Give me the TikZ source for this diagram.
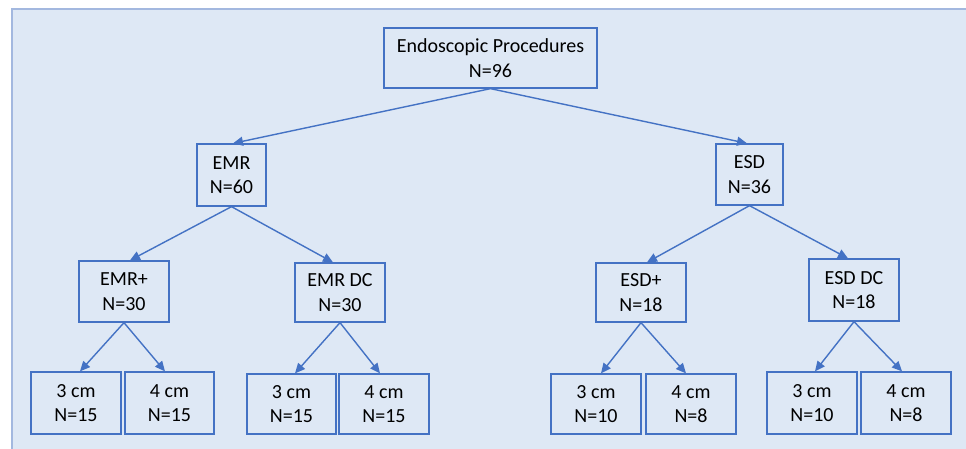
\documentclass[tikz,border=0pt]{standalone}
\usepackage{fontspec}
\setmainfont{Carlito}
\usetikzlibrary{arrows.meta,calc}
\definecolor{panelbg}{HTML}{DEE8F5}
\definecolor{panelline}{HTML}{A3B8DF}
\definecolor{boxline}{HTML}{4472C4}
\tikzset{
  box/.style={draw=boxline, line width=1.3pt, fill=panelbg, rectangle, align=center,
    inner sep=0pt, font=\fontsize{20}{24.5}\selectfont, text=black},
  conn/.style={draw=boxline, line width=1.4pt, -{Triangle[length=10pt,width=9pt]}}
}
\begin{document}
\begin{tikzpicture}[x=1pt,y=-1pt]
\useasboundingbox (0,0) rectangle (966,449);
\fill[white] (0,0) rectangle (966,449);
\fill[panelbg] (12,9) rectangle (975,460);
\draw[panelline, line width=1.3pt] (12,460) -- (12,9) -- (975,9);

\node[box, minimum width=213pt, minimum height=60pt] (top) at (490.5,58) {Endoscopic Procedures\\N=96};
\node[box, minimum width=69pt, minimum height=62pt] (emr) at (231.5,175) {EMR\\N=60};
\node[box, minimum width=67pt, minimum height=61pt] (esd) at (749.5,174.5) {ESD\\N=36};
\node[box, minimum width=90pt, minimum height=61pt] (emrp) at (124,291.5) {EMR+\\N=30};
\node[box, minimum width=90pt, minimum height=59pt] (emrdc) at (340,292.5) {EMR DC\\N=30};
\node[box, minimum width=90pt, minimum height=59pt] (esdp) at (641,292.5) {ESD+\\N=18};
\node[box, minimum width=90pt, minimum height=62pt] (esddc) at (854,290) {ESD DC\\N=18};

\node[box, minimum width=90pt, minimum height=62pt] (a1) at (76,403) {3 cm\\N=15};
\node[box, minimum width=89pt, minimum height=62pt] (a2) at (169.5,403) {4 cm\\N=15};
\node[box, minimum width=89pt, minimum height=60pt] (b1) at (291.5,404) {3 cm\\N=15};
\node[box, minimum width=90pt, minimum height=60pt] (b2) at (384,404) {4 cm\\N=15};
\node[box, minimum width=90pt, minimum height=60pt] (c1) at (596,404) {3 cm\\N=10};
\node[box, minimum width=90pt, minimum height=60pt] (c2) at (691,404) {4 cm\\N=8};
\node[box, minimum width=90pt, minimum height=62pt] (d1) at (812,403) {3 cm\\N=10};
\node[box, minimum width=90pt, minimum height=62pt] (d2) at (906,403) {4 cm\\N=8};

\draw[conn] (top.south) -- ($(emr.north)+(1.5,0)$);
\draw[conn] (top.south) -- ($(esd.north)+(-2.5,0)$);
\draw[conn] (emr.south) -- ($(emrp.north)+(6,0)$);
\draw[conn] (emr.south) -- ($(emrdc.north)+(-7,0)$);
\draw[conn] (esd.south) -- ($(esdp.north)+(6,0)$);
\draw[conn] (esd.south) -- ($(esddc.north)+(-6,0)$);
\draw[conn] (emrp.south) -- ($(a1.north)+(4,0)$);
\draw[conn] (emrp.south) -- ($(a2.north)+(-4.5,0)$);
\draw[conn] (emrdc.south) -- ($(b1.north)+(3.5,0)$);
\draw[conn] (emrdc.south) -- ($(b2.north)+(-4,0)$);
\draw[conn] (esdp.south) -- ($(c1.north)+(5,0)$);
\draw[conn] (esdp.south) -- ($(c2.north)+(-5,0)$);
\draw[conn] (esddc.south) -- ($(d1.north)+(3,0)$);
\draw[conn] (esddc.south) -- ($(d2.north)+(-4,0)$);
\end{tikzpicture}
\end{document}
